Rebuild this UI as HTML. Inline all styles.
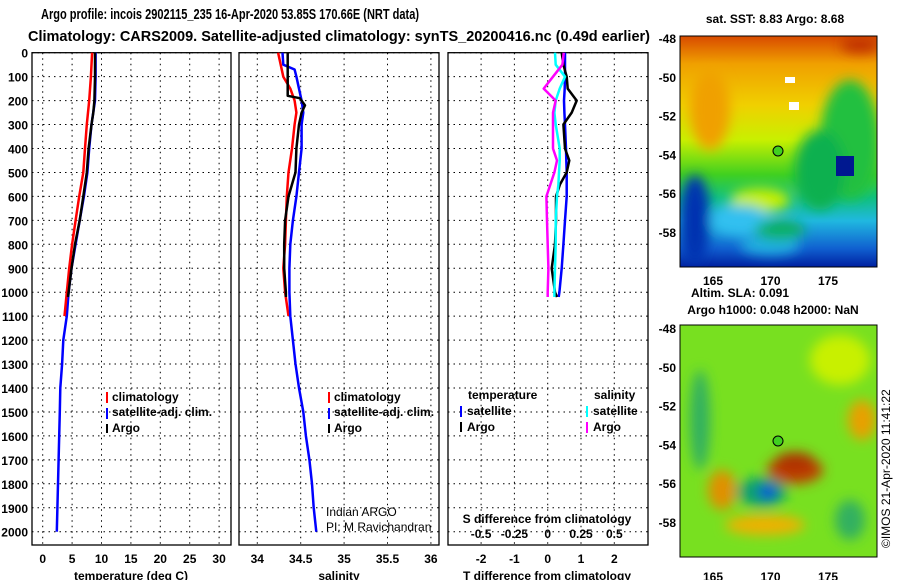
<!DOCTYPE html>
<html><head><meta charset="utf-8"><style>
body{margin:0;background:#fff;width:900px;height:580px;overflow:hidden}
svg{display:block}
text{font-family:"Liberation Sans",sans-serif;font-weight:bold;fill:#000}
</style></head><body>
<svg id="c" width="900" height="580" viewBox="0 0 900 580">
<defs>
<linearGradient id="sstg" x1="0" y1="0" x2="0" y2="1">
<stop offset="0" stop-color="#d84a00"/><stop offset="0.12" stop-color="#f0a000"/><stop offset="0.3" stop-color="#f0d000"/><stop offset="0.45" stop-color="#c8f000"/><stop offset="0.6" stop-color="#40d020"/><stop offset="0.7" stop-color="#10c080"/><stop offset="0.8" stop-color="#20b8e0"/><stop offset="0.92" stop-color="#1060d0"/><stop offset="1" stop-color="#0020a0"/>
</linearGradient>
<filter id="bl" x="-50%" y="-50%" width="200%" height="200%"><feGaussianBlur stdDeviation="6"/></filter>
<clipPath id="m1c"><rect x="680" y="36" width="197" height="231"/></clipPath>
<clipPath id="m2c"><rect x="680" y="325" width="197" height="232"/></clipPath>
</defs>
<text x="230" y="19" text-anchor="middle" font-size="15" textLength="378" lengthAdjust="spacingAndGlyphs">Argo profile: incois 2902115_235 16-Apr-2020 53.85S 170.66E (NRT data)</text>
<text x="339" y="41" text-anchor="middle" font-size="15" textLength="622" lengthAdjust="spacingAndGlyphs">Climatology: CARS2009. Satellite-adjusted climatology: synTS_20200416.nc (0.49d earlier)</text>
<g id="axes"></g>
<g id="lines"></g>
<!-- legends -->
<g font-size="12">
<rect x="106" y="392" width="2" height="11" fill="#f00"/><text x="112" y="401" font-size="12">climatology</text>
<rect x="106" y="408" width="2" height="11" fill="#00f"/><text x="112" y="416" font-size="12">satellite-adj. clim.</text>
<rect x="106" y="424" width="2" height="9" fill="#000"/><text x="112" y="432" font-size="12">Argo</text>
</g>
<g>
<rect x="328" y="392" width="2" height="11" fill="#f00"/><text x="334" y="401" font-size="12">climatology</text>
<rect x="328" y="408" width="2" height="11" fill="#00f"/><text x="334" y="416" font-size="12">satellite-adj. clim.</text>
<rect x="328" y="424" width="2" height="9" fill="#000"/><text x="334" y="432" font-size="12">Argo</text>
<text x="326" y="516" font-size="12" font-weight="normal" style="font-weight:normal">Indian ARGO</text>
<text x="326" y="531" font-size="12" style="font-weight:normal">PI: M Ravichandran</text>
</g>
<g>
<text x="468" y="399" font-size="12">temperature</text><text x="594" y="399" font-size="12">salinity</text>
<rect x="460" y="406" width="2" height="11" fill="#00f"/><text x="467" y="415" font-size="12">satellite</text>
<rect x="586" y="406" width="2" height="11" fill="#0ff"/><text x="593" y="415" font-size="12">satellite</text>
<rect x="460" y="422" width="2" height="10" fill="#000"/><text x="467" y="431" font-size="12">Argo</text>
<rect x="586" y="422" width="2" height="11" fill="#f0f"/><text x="593" y="431" font-size="12">Argo</text>
<text x="547" y="523" text-anchor="middle" font-size="12">S difference from climatology</text>
</g>
<!-- maps -->
<text x="775" y="23" text-anchor="middle" font-size="12">sat. SST: 8.83 Argo: 8.68</text>
<g clip-path="url(#m1c)">
<rect x="680" y="36" width="197" height="231" fill="url(#sstg)"/>
<g filter="url(#bl)">
<ellipse cx="850" cy="140" rx="30" ry="60" fill="#20c040"/>
<ellipse cx="820" cy="170" rx="25" ry="40" fill="#10b050"/>
<ellipse cx="760" cy="200" rx="30" ry="12" fill="#c8f000"/>
<ellipse cx="740" cy="220" rx="30" ry="15" fill="#30c0f0"/>
<ellipse cx="695" cy="220" rx="15" ry="45" fill="#0030b0"/>
<ellipse cx="770" cy="245" rx="30" ry="10" fill="#20b0e0"/>
<ellipse cx="710" cy="110" rx="20" ry="40" fill="#f0a000"/>
<ellipse cx="860" cy="45" rx="20" ry="8" fill="#c03000"/>
<ellipse cx="780" cy="230" rx="25" ry="10" fill="#10b060"/>
</g>
<rect x="836" y="156" width="18" height="20" fill="#001890"/>
<rect x="789" y="102" width="10" height="8" fill="#fff"/>
<rect x="785" y="77" width="10" height="6" fill="#fff"/>
<circle cx="778" cy="151" r="5" fill="#40d020" stroke="#000"/>
</g>
<rect x="680" y="36" width="197" height="231" fill="none" stroke="#000"/>
<text x="740" y="297" text-anchor="middle" font-size="12">Altim. SLA: 0.091</text>
<text x="773" y="314" text-anchor="middle" font-size="12">Argo h1000: 0.048 h2000: NaN</text>
<g clip-path="url(#m2c)">
<rect x="680" y="325" width="197" height="232" fill="#78e020"/>
<g filter="url(#bl)">
<ellipse cx="840" cy="360" rx="30" ry="25" fill="#c8f000"/>
<ellipse cx="862" cy="420" rx="14" ry="20" fill="#e8a000"/>
<ellipse cx="795" cy="470" rx="28" ry="14" fill="#c04000"/>
<ellipse cx="795" cy="462" rx="20" ry="10" fill="#b03000"/>
<ellipse cx="762" cy="492" rx="25" ry="15" fill="#10a070"/>
<ellipse cx="768" cy="492" rx="9" ry="7" fill="#1040e0"/>
<ellipse cx="722" cy="490" rx="14" ry="20" fill="#e09000"/>
<ellipse cx="765" cy="525" rx="40" ry="10" fill="#f0b000"/>
<ellipse cx="700" cy="420" rx="10" ry="50" fill="#30b060"/>
<ellipse cx="850" cy="520" rx="15" ry="20" fill="#30b060"/>
</g>
<circle cx="778" cy="441" r="5" fill="#40d020" stroke="#000"/>
</g>
<rect x="680" y="325" width="197" height="232" fill="none" stroke="#000"/>
<text transform="translate(890,548) rotate(-90)" font-size="12" style="font-weight:normal">©IMOS 21-Apr-2020 11:41:22</text>
</svg>
<script>
const depthTicks=[0,100,200,300,400,500,600,700,800,900,1000,1100,1200,1300,1400,1500,1600,1700,1800,1900,2000];
const tempTicks=[0,5,10,15,20,25,30];
const salTicks=[34,34.5,35,35.5,36];
const salTickLabels=["34","34.5","35","35.5","36"];
const tdTicks=[-2,-1,0,1,2];
const sdTickLabels=["-0.5","-0.25","0","0.25","0.5"];
const latTicks=[-48,-50,-52,-54,-56,-58];
const lonTicks=[165,170,175];
// temperature profiles
const tClimDepth=[0,100,200,300,400,500,600,700,800,900,1000,1100];
const tClim=[8.4,8.2,7.9,7.5,7.2,6.9,6.2,5.6,5.0,4.5,4.1,3.7];
const tSatDepth=[0,100,200,300,400,500,600,700,800,900,1000,1100,1200,1300,1400,1500,1600,1700,1800,1900,2000];
const tSat=[9.0,9.0,8.9,8.3,7.9,7.6,7.0,6.3,5.6,4.9,4.4,4.1,3.5,3.3,3.0,2.9,2.8,2.7,2.6,2.5,2.4];
const tArgoDepth=[0,100,200,250,300,400,500,600,700,800,900,1000,1020];
const tArgo=[8.9,8.9,8.8,8.6,8.3,7.8,7.5,6.9,6.3,5.5,4.9,4.4,4.3];
// salinity profiles
const sClimDepth=[0,100,150,200,250,300,400,500,600,700,800,900,1000,1100];
const sClim=[34.24,34.30,34.38,34.43,34.45,34.43,34.40,34.36,34.34,34.33,34.32,34.30,34.32,34.36];
const sSatDepth=[0,50,70,100,200,250,300,400,500,600,700,800,900,1000,1100,1200,1300,1400,1500,1600,1700,1800,1900,2000];
const sSat=[34.29,34.30,34.43,34.45,34.51,34.53,34.51,34.51,34.48,34.45,34.41,34.38,34.37,34.37,34.38,34.41,34.44,34.48,34.53,34.56,34.60,34.63,34.65,34.68];
const sArgoDepth=[0,180,190,220,250,300,400,500,550,600,700,800,900,1000,1020];
const sArgo=[34.35,34.35,34.49,34.55,34.51,34.48,34.45,34.44,34.40,34.36,34.32,34.31,34.31,34.33,34.33];
// difference profiles
const dDepth=[0,50,100,150,200,250,300,400,450,500,550,600,700,800,900,1000,1020];
const dTSat=[0.52,0.52,0.52,0.51,0.49,0.50,0.52,0.55,0.56,0.57,0.57,0.57,0.52,0.47,0.42,0.35,0.33];
const dTArgo=[0.42,0.47,0.57,0.60,0.87,0.72,0.47,0.52,0.65,0.57,0.37,0.25,0.25,0.22,0.12,0.22,0.28];
const dSSat=[0.055,0.06,0.13,0.09,0.06,0.05,0.06,0.09,0.09,0.085,0.08,0.07,0.06,0.06,0.055,0.05,0.05];
const dSArgo=[0.12,0.11,0.04,-0.03,0.06,0.04,0.04,0.04,0.07,0.05,0.02,-0.01,-0.005,0.0,0.005,0.0,0.0];

const NS="http://www.w3.org/2000/svg";
const axes=document.getElementById('axes'), lines=document.getElementById('lines');
function mk(tag,attrs,parent){const e=document.createElementNS(NS,tag);for(const k in attrs)e.setAttribute(k,attrs[k]);parent.appendChild(e);return e;}
const Y0=52.7,YT=545;
const yD=d=>Y0+d*0.2395;
const xT=t=>42.7+t*5.88;
const xS=s=>257.3+(s-34)*86.8;
const xDT=d=>547.7+d*33.3;
const xDS=d=>547.7+d*133.3;
const panels=[[32,231,'temperature-panel'],[239,439,'salinity-panel'],[448,648,'difference-panel']];
panels.forEach(p=>{
  const r=mk('rect',{x:p[0],y:Y0,width:p[1]-p[0],height:YT-Y0,fill:'none',stroke:'#000','stroke-width':1.3},axes);
  
  
  depthTicks.forEach(d=>{
    const l=mk('line',{x1:p[0],x2:p[1],y1:yD(d),y2:yD(d),stroke:'#000','stroke-dasharray':'1.5 4'},axes);
    
    
  });
});
depthTicks.forEach(d=>{
  const t=mk('text',{x:28,y:yD(d)+5,'text-anchor':'end','font-size':12},axes);
  t.textContent=d;
  
  
});
function vgrid(vals,fx,labels){
  vals.forEach((v,i)=>{
    const l=mk('line',{x1:fx(v),x2:fx(v),y1:Y0,y2:YT,stroke:'#000','stroke-dasharray':'1.5 4'},axes);
    
    
    const t=mk('text',{x:fx(v),y:563,'text-anchor':'middle','font-size':12},axes);
    t.textContent=labels?labels[i]:v;
    
    
  });
}
vgrid(tempTicks,xT);vgrid(salTicks,xS,salTickLabels);vgrid(tdTicks,xDT);
tdTicks.forEach((v,i)=>{
  const t=mk('text',{x:xDT(v),y:538,'text-anchor':'middle','font-size':12},axes);
  t.textContent=sdTickLabels[i];
  
  
});
[['temperature (deg C)',131,'temperature-axis-title'],['salinity',339,'salinity-axis-title'],['T difference from climatology',547,'t-diff-axis-title']].forEach(a=>{
  const t=mk('text',{x:a[1],y:580,'text-anchor':'middle','font-size':12},axes);
  t.textContent=a[0];
  
  
});
// map axes
const yLat1=l=>38+(-48-l)*19.4, yLat2=l=>328+(-48-l)*19.4, xLon=l=>713+(l-165)*11.5;
latTicks.forEach(l=>{
  [yLat1,yLat2].forEach(f=>{
    const t=mk('text',{x:676,y:f(l)+5,'text-anchor':'end','font-size':12},axes);
    t.textContent=l;
    
    
  });
});
lonTicks.forEach(l=>{
  [285,581].forEach(y=>{
    const t=mk('text',{x:xLon(l),y:y,'text-anchor':'middle','font-size':12},axes);
    t.textContent=l;
    
    
  });
});
function series(xs,ds,fx,color,name){
  const pts=xs.map((v,i)=>fx(v).toFixed(1)+','+yD(ds[i]).toFixed(1)).join(' ');
  const p=mk('polyline',{points:pts,fill:'none',stroke:color,'stroke-width':2.5,'stroke-linejoin':'round'},lines);
  
  
}
series(tSat,tSatDepth,xT,'#00f','temperature-satellite-line');
series(tClim,tClimDepth,xT,'#f00','temperature-climatology-line');
series(tArgo,tArgoDepth,xT,'#000','temperature-argo-line');
series(sClim,sClimDepth,xS,'#f00','salinity-climatology-line');
series(sSat,sSatDepth,xS,'#00f','salinity-satellite-line');
series(sArgo,sArgoDepth,xS,'#000','salinity-argo-line');
series(dTSat,dDepth,xDT,'#00f','t-diff-satellite-line');
series(dTArgo,dDepth,xDT,'#000','t-diff-argo-line');
series(dSSat,dDepth,xDS,'#0ff','s-diff-satellite-line');
series(dSArgo,dDepth,xDS,'#f0f','s-diff-argo-line');
</script>
</body></html>
